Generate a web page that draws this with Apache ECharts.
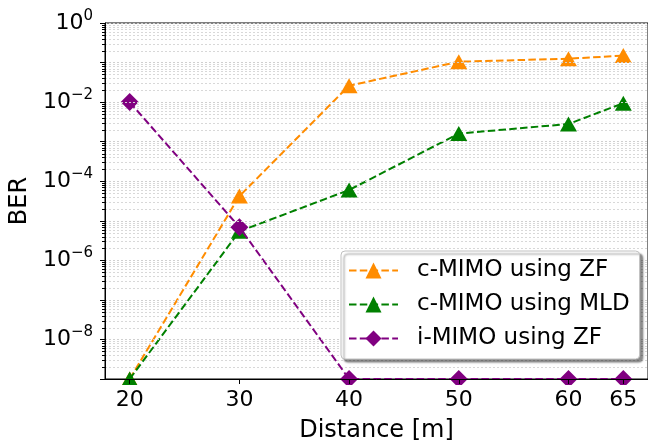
<!DOCTYPE html>
<html>
<head>
<meta charset="utf-8">
<script src="https://cdn.jsdelivr.net/npm/echarts@6/dist/echarts.min.js"></script>
<style>
  html, body { margin: 0; padding: 0; background: #fff; }
  #main { width: 648px; height: 448px; }
</style>
</head>
<body>
<div id="main"></div>
<script>
// distances on the x axis and BER per scheme
var distance = [20, 30, 40, 50, 60, 65];
var berZF = [1e-9, 4.2e-5, 2.6e-2, 0.105, 0.125, 0.15];
var berMLD = [1e-9, 5.4e-6, 6e-5, 1.6e-3, 2.8e-3, 9.4e-3];
var berIZF = [1e-2, 6.9e-6, 1e-9, 1e-9, 1e-9, 1e-9];
var seriesNames = ['c-MIMO using ZF', 'c-MIMO using MLD', 'i-MIMO using ZF'];
var xTicks = [20, 30, 40, 50, 60, 65];
var decades = [-9, -8, -7, -6, -5, -4, -3, -2, -1];

var xMin = 17.75, xMax = 67.25;
var font = 'DejaVu Sans';

// minor log positions (2..9 x 10^k) for the fine grid
var minorVals = [];
decades.forEach(function (k) {
    for (var m = 2; m <= 9; m++) minorVals.push([xMin, m * Math.pow(10, k)]);
});

function pairs(ys) {
    return distance.map(function (d, i) { return [d, ys[i]]; });
}

function expLabel(v) {
    var e = Math.round(Math.log10(v));
    if (e % 2 !== 0) return '';
    var s = e < 0 ? '\u2212' + (-e) : '' + e;
    return '{b|10}{s|' + s + '}';
}

var myChart = echarts.init(document.getElementById('main'));

var option = {
    animation: false,
    backgroundColor: '#fff',
    grid: {
        left: 92, right: -1, top: 23, bottom: 64,
        show: true, borderColor: '#000', borderWidth: 1, backgroundColor: 'transparent'
    },
    legend: {
        orient: 'vertical',
        left: 341, top: 251,
        z: 50,
        data: seriesNames,
        itemWidth: 49, itemHeight: 20, itemGap: 11,
        padding: [8, 10, 9, 7],
        backgroundColor: '#fff',
        borderColor: '#c0c0c0', borderWidth: 1, borderRadius: 4,
        shadowColor: 'rgba(0,0,0,0.45)', shadowBlur: 2, shadowOffsetX: 3, shadowOffsetY: 3,
        textStyle: { fontFamily: font, fontSize: 23, color: '#000', padding: [0, 0, 0, 14] }
    },
    xAxis: {
        type: 'value',
        min: xMin, max: xMax,
        z: 20,
        name: 'Distance [m]',
        nameLocation: 'middle',
        nameGap: 40,
        nameTextStyle: { fontFamily: font, fontSize: 24, color: '#000' },
        axisLine: { show: true, lineStyle: { color: '#000', width: 1 } },
        axisTick: { show: true, length: 5, customValues: xTicks, lineStyle: { color: '#000' } },
        axisLabel: { customValues: xTicks, margin: 10, fontFamily: font, fontSize: 22, color: '#000' },
        splitLine: { show: false }
    },
    yAxis: {
        type: 'log',
        logBase: 10,
        min: 1e-9, max: 1,
        splitNumber: 9,
        z: 20,
        name: 'BER',
        nameLocation: 'middle',
        nameGap: 68,
        nameTextStyle: { fontFamily: font, fontSize: 24, color: '#000' },
        axisLine: { show: true, lineStyle: { color: '#000', width: 1 } },
        axisTick: { show: true, length: 5, lineStyle: { color: '#000' } },
        axisLabel: {
            margin: 12,
            showMaxLabel: true,
            formatter: expLabel,
            rich: {
                b: { fontFamily: font, fontSize: 22, color: '#000' },
                s: { fontFamily: font, fontSize: 15, color: '#000', padding: [0, 0, 14, 0] }
            }
        },
        splitLine: { show: true, lineStyle: { color: '#d0d0d0', width: 1, type: [2, 2] } }
    },
    graphic: [{
        // hide the part of markers that falls below the axes, like matplotlib clipping
        type: 'rect', z: 10,
        shape: { x: 0, y: 385, width: 648, height: 9 },
        style: { fill: '#fff' }
    }],
    series: [
        {
            type: 'custom',
            name: 'minor',
            z: 1,
            silent: true,
            data: minorVals,
            renderItem: function (params, api) {
                var cs = params.coordSys;
                var y = Math.round(api.coord([api.value(0), api.value(1)])[1]) + 0.5;
                return {
                    type: 'group',
                    children: [
                        { type: 'line', shape: { x1: cs.x, y1: y, x2: cs.x + cs.width, y2: y },
                          style: { stroke: '#d8d8d8', lineWidth: 1, lineDash: [2, 2] } },
                        { type: 'line', shape: { x1: cs.x - 3, y1: y, x2: cs.x, y2: y },
                          style: { stroke: '#000', lineWidth: 1 } }
                    ]
                };
            }
        },
        {
            name: seriesNames[0], type: 'line', z: 3,
            data: pairs(berZF),
            symbol: 'triangle', symbolSize: [17, 15],
            itemStyle: { color: '#ff8c00' },
            lineStyle: { color: '#ff8c00', width: 2, type: [7.5, 3.3] }
        },
        {
            name: seriesNames[1], type: 'line', z: 4,
            data: pairs(berMLD),
            symbol: 'triangle', symbolSize: [17, 15],
            itemStyle: { color: '#008000' },
            lineStyle: { color: '#008000', width: 2, type: [7.5, 3.3] }
        },
        {
            name: seriesNames[2], type: 'line', z: 5,
            data: pairs(berIZF),
            symbol: 'diamond', symbolSize: [18, 18],
            itemStyle: { color: '#800080' },
            lineStyle: { color: '#800080', width: 2, type: [7.5, 3.3] }
        }
    ]
};
myChart.setOption(option);
</script>
</body>
</html>
